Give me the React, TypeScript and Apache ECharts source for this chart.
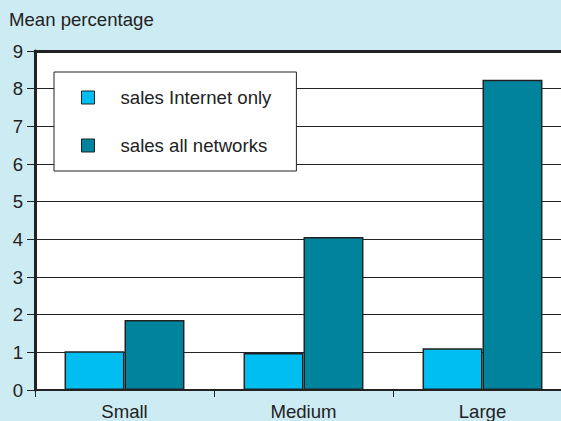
import React, { useEffect, useRef } from "react";
import * as echarts from "echarts";

const categories = ["Small", "Medium", "Large"];
const seriesNames = ["sales Internet only", "sales all networks"];
const internetOnly = [1.03, 0.98, 1.11];
const allNetworks = [1.86, 4.06, 8.24];
const yTicks = [0, 1, 2, 3, 4, 5, 6, 7, 8, 9];
const yTitle = "Mean percentage";

const FONT = "'Liberation Sans', Arial, Helvetica, sans-serif";
const FS = 18.6;

export default function App() {
  const ref = useRef<HTMLDivElement>(null);
  useEffect(() => {
    document.body.style.margin = "0";
    const chart = echarts.init(ref.current!, null, { renderer: "svg" });
    chart.setOption({
      animation: false,
      backgroundColor: "#cdebf3",
      textStyle: { fontFamily: FONT },
      graphic: [
        {
          type: "text",
          left: 9,
          top: 10,
          style: { text: yTitle, fontSize: FS, fill: "#222", fontFamily: FONT },
        },
      ],
      legend: {
        orient: "vertical",
        left: 54,
        top: 72,
        data: seriesNames,
        icon: "rect",
        itemWidth: 13,
        itemHeight: 13,
        itemGap: 29,
        padding: [16, 25, 16, 27],
        backgroundColor: "#ffffff",
        borderColor: "#222",
        borderWidth: 1,
        itemStyle: { borderColor: "#222", borderWidth: 1 },
        textStyle: {
          fontSize: FS,
          color: "#222",
          fontFamily: FONT,
          lineHeight: 18,
          padding: [0, 0, 0, 21],
        },
      },
      grid: { left: 35, top: 51, width: 537, height: 341, backgroundColor: "#fff", show: true, borderWidth: 0 },
      xAxis: [
        {
          type: "category",
          data: categories,
          position: "bottom",
          axisLine: { show: true, lineStyle: { color: "#222", width: 2 } },
          axisTick: { show: true, length: 7, alignWithLabel: false, lineStyle: { color: "#222", width: 1 } },
          axisLabel: { fontSize: FS, color: "#222", margin: 12, fontFamily: FONT },
        },
        {
          type: "category",
          data: categories,
          position: "top",
          axisLine: { show: true, lineStyle: { color: "#222", width: 3 } },
          axisTick: { show: false },
          axisLabel: { show: false },
        },
      ],
      yAxis: {
        type: "value",
        min: yTicks[0],
        max: yTicks[yTicks.length - 1],
        interval: 1,
        axisLine: { show: true, lineStyle: { color: "#222", width: 3 } },
        axisTick: { show: true, length: 8, lineStyle: { color: "#222", width: 1 } },
        axisLabel: { fontSize: FS, color: "#222", margin: 12, fontFamily: FONT },
        splitLine: { show: true, lineStyle: { color: "#222", width: 1.2 } },
      },
      series: [
        {
          name: seriesNames[0],
          type: "bar",
          data: internetOnly,
          barGap: "0%",
          barCategoryGap: "33%",
          itemStyle: { color: "#00bff0", borderColor: "#222", borderWidth: 1.5 },
        },
        {
          name: seriesNames[1],
          type: "bar",
          data: allNetworks,
          barGap: "0%",
          barCategoryGap: "33%",
          itemStyle: { color: "#00839d", borderColor: "#222", borderWidth: 1.5 },
        },
      ],
    });
    return () => chart.dispose();
  }, []);
  return (
    <div style={{ width: 561, height: 421, overflow: "hidden", position: "relative" }}>
      <div ref={ref} style={{ width: 600, height: 421, position: "absolute", left: 0, top: 0 }} />
    </div>
  );
}
